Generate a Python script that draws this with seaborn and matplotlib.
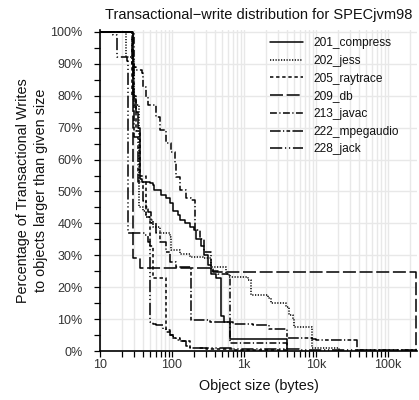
import matplotlib
matplotlib.use("Agg")
import matplotlib.pyplot as plt
import matplotlib.ticker as mticker
import seaborn as sns
import pandas as pd

# ---- data (object size in bytes, % of writes to objects larger than size) ----
series_names = ["201_compress", "202_jess", "205_raytrace", "209_db",
                "213_javac", "222_mpegaudio", "228_jack"]

compress_x = [10, 28.9, 32.1, 33.9, 35.7, 38.9, 49, 54.6, 57, 70, 83.5, 95, 103,
              121, 128, 150, 175, 200, 217, 250, 274, 320, 350, 410, 481, 535, 647, 3890]
compress_y = [100, 79, 75, 70, 54, 53, 52.5, 52, 50.5, 49, 48, 46.3, 44,
              42.6, 41, 40, 39, 38, 35, 33, 30, 27, 24, 23, 11, 9, 3.7, 0]

jess_x = [10, 22.6, 29.8, 35, 39.7, 44.2, 49.1, 54.6, 67.5, 92.9, 98, 128, 175, 268,
          350, 564, 627, 1124, 1250, 2124, 2362, 3811, 4235, 4710, 4966, 8895, 20800]
jess_y = [100, 92, 77, 45, 44, 42, 41, 39, 37, 35.8, 31.7, 30.5, 29.6, 29,
          26.4, 24, 23.3, 22.3, 17.6, 16.5, 14.9, 13.9, 11.3, 10, 7.6, 1.0, 0]

raytrace_x = [10, 27.4, 32.1, 35.7, 44.2, 49.1, 54.6, 83.5, 92.9, 103, 128, 175, 298, 697, 4000]
raytrace_y = [100, 80, 69, 55, 42, 33, 22.8, 6.5, 5, 4, 3, 1, 0.5, 0.3, 0]

db_x = [10, 28.3, 35.7, 369, 243800]
db_y = [100, 29, 26, 24.7, 0]

javac_x = [10, 29.8, 32.1, 37.7, 39.7, 44.2, 46.6, 60.7, 67.5, 83.5, 98, 109, 115, 128,
           158, 185, 206, 241, 274, 350, 433, 647, 3890]
javac_y = [100, 89, 88, 87, 82.8, 79.7, 77, 73.4, 69.3, 65.2, 62.5, 58.8, 54.6, 50.5,
           47.9, 47.3, 38, 35, 31, 25, 24, 2.6, 0]

mpeg_x = [10, 28, 29.5, 33.9, 39.7, 44.2, 46.6, 51.8, 60.7, 67.5, 83.5, 92.9, 115, 185,
          332, 410, 700, 1318, 2239, 3890, 8895, 9890, 37200, 243800]
mpeg_y = [100, 90, 67, 53, 47, 45, 43.7, 40, 37, 34.3, 31, 28, 26.2, 9.7,
          9.2, 9, 8.5, 8, 7, 4, 3.8, 3.5, 0.3, 0]

jack_x = [10, 15.3, 17.4, 23.4, 24.6, 41.9, 46.6, 49.1, 54.6, 60.7, 75.1, 83.5, 92.9,
          103, 115, 135, 158, 175, 241, 697, 5820, 48600, 243800]
jack_y = [100, 99, 92, 91, 37, 36.4, 34.3, 9.2, 8.5, 8, 7, 6, 5,
          4.5, 3.5, 3, 1.5, 1, 0.8, 0.5, 0.3, 0.2, 0]

x_ticks = [10, 100, 1000, 10000, 100000]
x_tick_labels = ["10", "100", "1k", "10k", "100k"]
y_ticks = [0, 10, 20, 30, 40, 50, 60, 70, 80, 90, 100]
y_tick_labels = ["0%", "10%", "20%", "30%", "40%", "50%", "60%", "70%", "80%", "90%", "100%"]

all_x = [compress_x, jess_x, raytrace_x, db_x, javac_x, mpeg_x, jack_x]
all_y = [compress_y, jess_y, raytrace_y, db_y, javac_y, mpeg_y, jack_y]

# ---- styles ----
line_styles = {
    "201_compress": "-",
    "202_jess": (0, (0.8, 1.0)),
    "205_raytrace": (0, (2.2, 1.8)),
    "209_db": (0, (8.5, 2.4)),
    "213_javac": (0, (4.5, 1.6, 0.8, 1.6)),
    "222_mpegaudio": (0, (7.0, 1.5, 0.8, 1.5, 2.4, 1.5)),
    "228_jack": (0, (8.0, 1.8, 0.8, 1.8, 0.8, 1.8)),
}

sns.set_theme(style="white")
plt.rcParams["font.family"] = ["Liberation Sans", "DejaVu Sans"]

fig = plt.figure(figsize=(4.19, 4.0), dpi=100)
ax = fig.add_axes([100 / 419, 1 - 351 / 400, 317 / 419, (351 - 30) / 400])

rows = []
for name, xs, ys in zip(series_names, all_x, all_y):
    for xv, yv in zip(xs, ys):
        rows.append({"series": name, "size": xv, "pct": yv})
df = pd.DataFrame(rows)

for name in series_names:
    sub = df[df["series"] == name]
    sns.lineplot(data=sub, x="size", y="pct", ax=ax, color="black", lw=1.1,
                 drawstyle="steps-post", estimator=None, sort=False,
                 linestyle=line_styles[name], label=name, zorder=3)

ax.set_xscale("log")
ax.set_xlim(10, 2.52e5)
ax.set_ylim(0, 100.6)

ax.set_xticks(x_ticks)
ax.set_xticklabels(x_tick_labels)
ax.xaxis.set_minor_locator(mticker.LogLocator(base=10, subs=range(2, 10), numticks=20))
ax.xaxis.set_minor_formatter(mticker.NullFormatter())
ax.set_yticks(y_ticks)
ax.set_yticklabels(y_tick_labels)
ax.yaxis.set_minor_locator(mticker.MultipleLocator(5))

ax.grid(True, which="major", axis="both", color="#e8e8e8", lw=1.0, zorder=0)
ax.grid(True, which="minor", axis="x", color="#e8e8e8", lw=1.0, zorder=0)
ax.set_axisbelow(True)

for s in ["top", "right"]:
    ax.spines[s].set_visible(False)
for s in ["left", "bottom"]:
    ax.spines[s].set_color("black")
    ax.spines[s].set_linewidth(1.2)

ax.tick_params(axis="both", which="both", direction="out", color="black",
               width=0.9, labelsize=9, labelcolor="#333333", left=True, bottom=True)
ax.tick_params(axis="both", which="both", length=4)
ax.tick_params(axis="y", which="major", pad=8.5)
ax.tick_params(axis="x", which="major", pad=2)

ax.set_xlabel("Object size (bytes)", fontsize=10.4, color="#111111")
ax.xaxis.set_label_coords(0.5, -0.088)
ax.set_ylabel("Percentage of Transactional Writes\nto objects larger than given size",
              fontsize=10.4, color="#111111", linespacing=1.3)
ax.yaxis.set_label_coords(-0.165, 0.5)
ax.set_title("Transactional\u2212write distribution for SPECjvm98", fontsize=10.5,
             color="#111111", pad=8)

leg = ax.legend(loc="upper left", bbox_to_anchor=(0.536, 0.978), frameon=False,
                fontsize=8.6, handlelength=2.8, handletextpad=0.85,
                labelspacing=0.48, borderaxespad=0, borderpad=0)
for t in leg.get_texts():
    t.set_color("#111111")

fig.savefig("out.png", dpi=100)
